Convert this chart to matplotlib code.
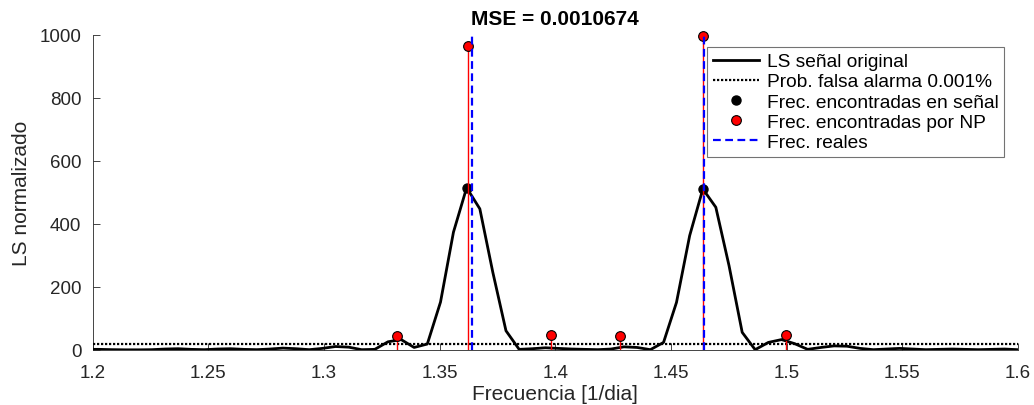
import matplotlib
matplotlib.use("Agg")
import matplotlib.pyplot as plt

plt.rcParams['font.family'] = ['Liberation Sans', 'DejaVu Sans']

# Lomb-Scargle periodogram of the original signal
freq = [1.1973, 1.2029, 1.2086, 1.2143, 1.2200, 1.2256, 1.2313, 1.2370, 1.2426,
        1.2483, 1.2540, 1.2596, 1.2653, 1.2710, 1.2767, 1.2823, 1.2880, 1.2937,
        1.2993, 1.3050, 1.3107, 1.3163, 1.3220, 1.3277, 1.3334, 1.3390, 1.3447,
        1.3504, 1.3560, 1.3617, 1.3674, 1.3730, 1.3787, 1.3844, 1.3901, 1.3957,
        1.4014, 1.4071, 1.4127, 1.4184, 1.4241, 1.4297, 1.4354, 1.4411, 1.4468,
        1.4524, 1.4581, 1.4638, 1.4694, 1.4751, 1.4808, 1.4864, 1.4921, 1.4978,
        1.5035, 1.5091, 1.5148, 1.5205, 1.5261, 1.5318, 1.5375, 1.5431, 1.5488,
        1.5545, 1.5602, 1.5658, 1.5715, 1.5772, 1.5828, 1.5885, 1.5942, 1.5998,
        1.6055]
ls_power = [2, 2, 1, 0.5, 0.5, 1, 3, 4, 2,
            1, 3, 4, 2, 1, 3, 6, 4, 1,
            5, 11, 9, 1, 2, 26, 33, 8, 19,
            152, 374, 515, 448, 247, 61, 2, 4, 7,
            5, 3, 2, 1, 3, 10, 8, 1, 24,
            151, 363, 511, 453, 268, 56, 1, 24, 33,
            20, 2, 8, 13, 12, 5, 1, 3, 5,
            3, 1, 2, 3, 2, 1, 2, 3, 1,
            1]

# False-alarm threshold
threshold = 18
freq_range = [1.2, 1.6]

# Peaks found in the signal
found_freq = [1.3617, 1.4638]
found_power = [515, 511]

# Peaks found by Neyman-Pearson detection
np_freq = [1.3317, 1.3621, 1.3980, 1.4280, 1.4637, 1.4997]
np_power = [43, 966, 47, 44, 997, 47]

# True frequencies
real_freq = [1.3641, 1.4641]

mse_text = 'MSE = 0.0010674'
axis_grey = (0.15, 0.15, 0.15)

fig = plt.figure(figsize=(10.34, 4.06), dpi=100)
ax = fig.add_axes([0.0895, 0.1355, 0.8950, 0.7760])

ax.plot(freq, ls_power, color='black', lw=2.0, label='LS señal original', zorder=3)
ax.plot(freq_range, [threshold, threshold], color='black', lw=1.6,
        linestyle=(0, (1, 0.8)), label='Prob. falsa alarma 0.001%', zorder=3)
ax.plot(found_freq, found_power, linestyle='none', marker='o', ms=6.5,
        color='black', label='Frec. encontradas en señal', zorder=4)
for f, p in zip(np_freq, np_power):
    ax.plot([f, f], [0, p], color='red', lw=1.0, zorder=5)
ax.plot(np_freq, np_power, linestyle='none', marker='o', ms=7,
        markerfacecolor='red', markeredgecolor='black', markeredgewidth=0.8,
        label='Frec. encontradas por NP', zorder=6, clip_on=False)
for i, f in enumerate(real_freq):
    ax.plot([f, f], [0, 1000], color='blue', lw=1.6, linestyle=(0, (3.5, 2)),
            label='Frec. reales' if i == 0 else None, zorder=7)

ax.set_xlim(1.2, 1.6)
ax.set_ylim(0, 1000)
ax.set_xticks([1.2, 1.25, 1.3, 1.35, 1.4, 1.45, 1.5, 1.55, 1.6])
ax.set_xticklabels(['1.2', '1.25', '1.3', '1.35', '1.4', '1.45', '1.5', '1.55', '1.6'])
ax.set_yticks([0, 200, 400, 600, 800, 1000])

for side in ('top', 'right'):
    ax.spines[side].set_visible(False)
for side in ('left', 'bottom'):
    ax.spines[side].set_color(axis_grey)
    ax.spines[side].set_linewidth(0.6)
ax.tick_params(direction='in', length=5, width=0.6, color=axis_grey,
               labelsize=13.5, labelcolor=axis_grey)
ax.tick_params(axis='x', pad=10)
ax.tick_params(axis='y', pad=8)

ax.set_xlabel('Frecuencia [1/dia]', fontsize=15, color=axis_grey, labelpad=2)
ax.set_ylabel('LS normalizado', fontsize=15, color=axis_grey, labelpad=6)
ax.set_title(mse_text, fontsize=15, fontweight='bold', pad=8)

leg = ax.legend(loc='upper right', bbox_to_anchor=(0.985, 0.961),
                fontsize=13.8, frameon=True, fancybox=False, framealpha=1,
                edgecolor=(0.45, 0.45, 0.45), handlelength=2.4,
                handletextpad=0.4, labelspacing=0.14, borderpad=0.3,
                borderaxespad=0)
leg.get_frame().set_linewidth(0.8)

fig.savefig('out.png', dpi=100)
